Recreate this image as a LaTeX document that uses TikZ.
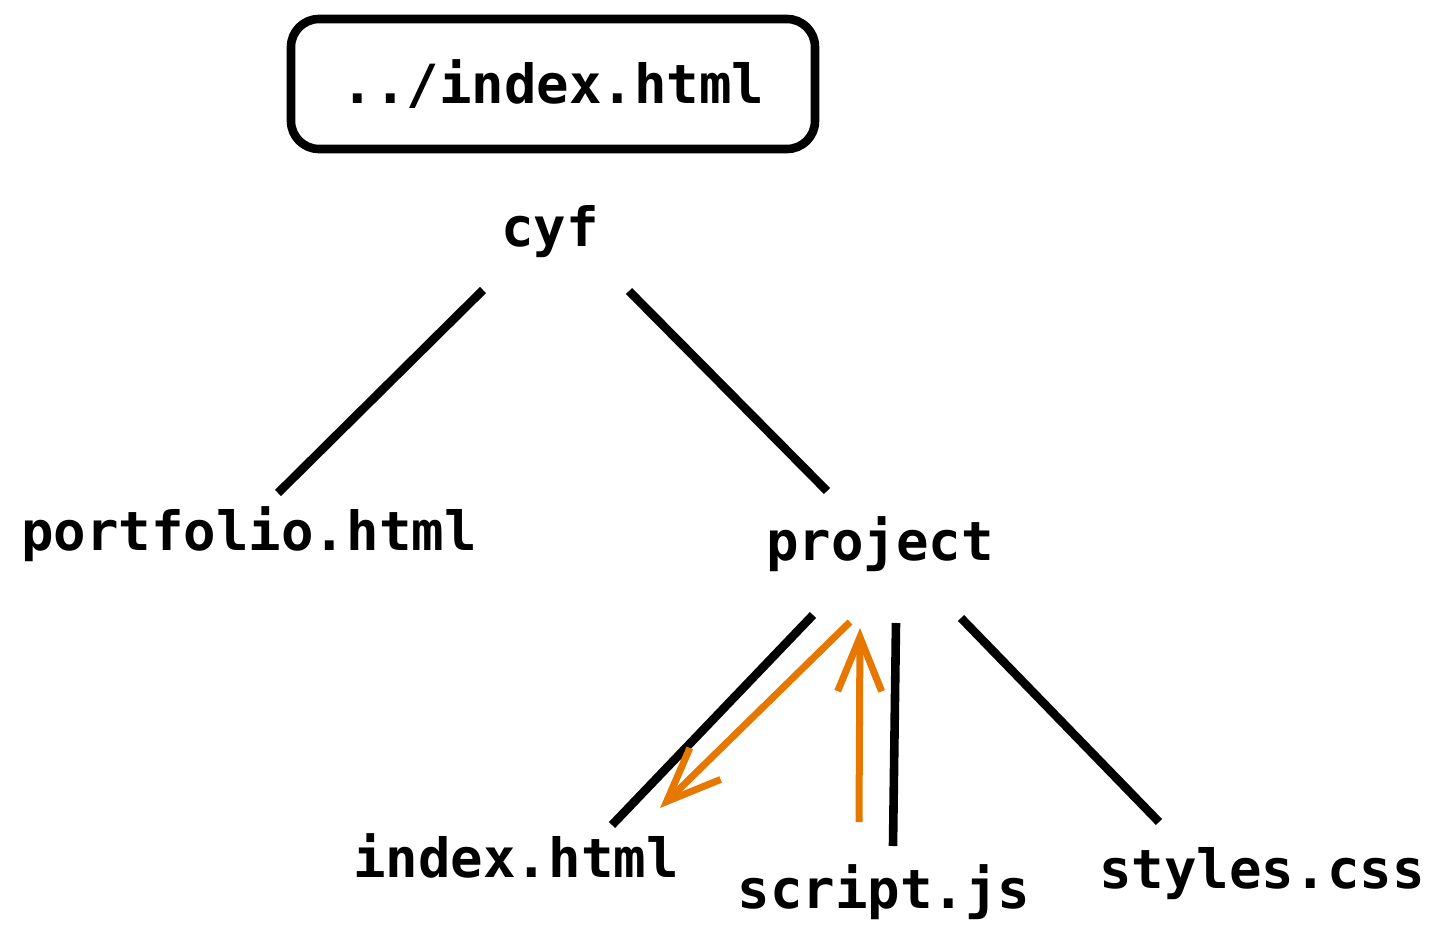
\documentclass[tikz,border=0pt]{standalone}
\usepackage{fontspec}
\setmonofont{DejaVu Sans Mono}
\usetikzlibrary{arrows.meta}
\definecolor{orng}{RGB}{230,119,0}
\begin{document}
\begin{tikzpicture}[x=0.5pt,y=-0.5pt,
  lbl/.style={font=\ttfamily\bfseries\fontsize{27}{32}\selectfont, inner sep=0pt, anchor=base},
  edge/.style={line width=4.3pt},
  orarrow/.style={draw=orng, line width=3.5pt, -{Straight Barb[length=27pt,width=22pt,line width=3.5pt]}}]
\useasboundingbox (0,0) rectangle (1447,942);
% top box
\node[draw, line width=4.3pt, rounded corners=14pt, minimum width=262pt, minimum height=65pt,
      font=\ttfamily\bfseries\fontsize{27}{32}\selectfont, inner sep=0pt] (box) at (553,84) {../index.html};
% labels
\node[lbl] (cyf) at (550,246) {cyf};
\node[lbl] (portfolio) at (249,550) {portfolio.html};
\node[lbl] (project) at (880,560) {project};
\node[lbl] (index) at (516,877) {index.html};
\node[lbl] (script) at (884,908) {script.js};
\node[lbl] (styles) at (1262,888) {styles.css};
% connector end points
\coordinate (a1) at (483,290); \coordinate (a2) at (278,493);
\coordinate (b1) at (629,291); \coordinate (b2) at (827,491);
\coordinate (c1) at (813,615); \coordinate (c2) at (612,825);
\coordinate (d1) at (896,623); \coordinate (d2) at (893,846);
\coordinate (e1) at (961,618); \coordinate (e2) at (1159,822);
\coordinate (o1) at (850,622); \coordinate (o2) at (660,808);
\coordinate (p1) at (859,822); \coordinate (p2) at (860,628);
\draw[edge] (a1) -- (a2);
\draw[edge] (b1) -- (b2);
\draw[edge] (c1) -- (c2);
\draw[edge] (d1) -- (d2);
\draw[edge] (e1) -- (e2);
\draw[orarrow] (o1) -- (o2);
\draw[orarrow] (p1) -- (p2);
\end{tikzpicture}
\end{document}
